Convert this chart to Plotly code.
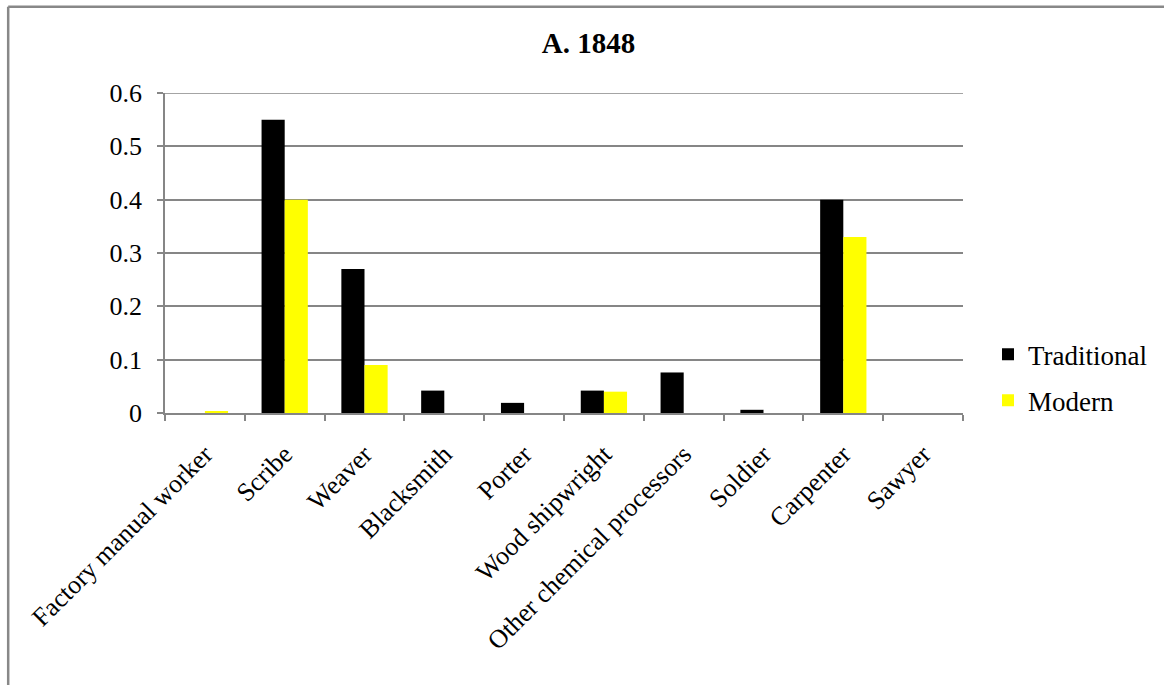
import plotly.graph_objects as go

# Occupation shares by sector, 1848
categories = [
    "Factory manual worker", "Scribe", "Weaver", "Blacksmith", "Porter",
    "Wood shipwright", "Other chemical processors", "Soldier", "Carpenter", "Sawyer",
]
traditional = [0.0, 0.55, 0.27, 0.042, 0.019, 0.042, 0.076, 0.006, 0.40, 0.0]
modern = [0.002, 0.40, 0.09, 0.0, 0.0, 0.040, 0.0, 0.0, 0.33, 0.0]
y_ticks = [0, 0.1, 0.2, 0.3, 0.4, 0.5, 0.6]
y_tick_text = ["0", "0.1", "0.2", "0.3", "0.4", "0.5", "0.6"]

W, H = 1164, 685
L, R, T, B = 165, 964, 92.5, 413  # plot-area edges in pixels
FONT = "Liberation Serif, Times New Roman, serif"
GRID = "#868686"

fig = go.Figure()
fig.add_trace(go.Bar(x=categories, y=traditional, name="Traditional",
                     legendgroup="trad",
                     marker=dict(color="#000000", line=dict(width=0))))
fig.add_trace(go.Bar(x=categories, y=modern, name="Modern",
                     legendgroup="mod",
                     marker=dict(color="#FFFF00", line=dict(width=0))))


def px_x(p):
    return (p - L) / (R - L)


def px_y(p):
    return (B - p) / (B - T)


# outer chart frame (top and left edges)
fig.add_shape(type="line", xref="paper", yref="paper",
              x0=px_x(8), x1=px_x(W + 5), y0=px_y(6), y1=px_y(6),
              line=dict(color="#888888", width=2.5))
fig.add_shape(type="line", xref="paper", yref="paper",
              x0=px_x(8), x1=px_x(8), y0=px_y(6), y1=px_y(H + 5),
              line=dict(color="#888888", width=2.5))
# top gridline at the end of the value range
fig.add_shape(type="line", xref="paper", yref="y",
              x0=px_x(L - 6), x1=1, y0=y_ticks[-1], y1=y_ticks[-1],
              line=dict(color=GRID, width=1.5), layer="below")

fig.update_layout(
    width=W, height=H,
    margin=dict(l=L, r=W - R, t=T, b=H - B, pad=0),
    paper_bgcolor="white", plot_bgcolor="white",
    barmode="group", bargap=0.42, bargroupgap=0,
    font=dict(family=FONT, color="#000000", size=26),
    title=dict(text="<b>A. 1848</b>", x=px_x(589), xref="paper",
               xanchor="center", y=1 - 43 / H, yanchor="middle",
               font=dict(family=FONT, size=29, color="#000000")),
    legend=dict(x=px_x(988), y=px_y(330), xanchor="left", yanchor="top",
                font=dict(family=FONT, size=27), bgcolor="rgba(0,0,0,0)",
                itemwidth=30, traceorder="grouped", tracegroupgap=8),
    showlegend=True,
)
fig.update_xaxes(
    showline=True, linecolor=GRID, linewidth=1.5,
    ticks="outside", ticklen=6, tickcolor=GRID, tickwidth=1.5,
    tickson="boundaries", tickangle=-45, showgrid=False,
    ticklabelstandoff=14,
    tickfont=dict(family=FONT, size=26, color="#000000"),
)
fig.update_yaxes(
    range=[0, 0.6], tickvals=y_ticks, ticktext=y_tick_text,
    showline=True, linecolor=GRID, linewidth=1.5,
    ticks="outside", ticklen=6, tickcolor=GRID, tickwidth=1.5,
    showgrid=True, gridcolor=GRID, gridwidth=1.5, zeroline=False,
    ticklabelstandoff=10,
    tickfont=dict(family=FONT, size=26, color="#000000"),
)

fig.write_html("out.html")
